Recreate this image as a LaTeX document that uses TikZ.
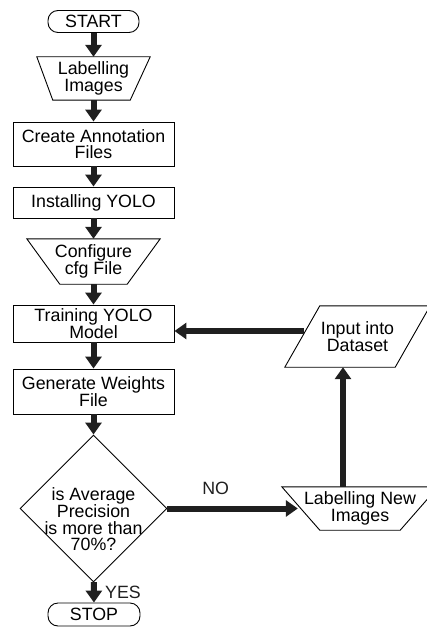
\documentclass[tikz,border=0pt]{standalone}
\usepackage{fontspec}
\setmainfont{Liberation Sans}
\usetikzlibrary{shapes,arrows,positioning,calc,arrows.meta}

\begin{document}
\begin{tikzpicture}[x=1pt,y=-1pt,
    every node/.style={font=\fontsize{17.8}{16.5}\selectfont, align=center},
    box/.style={draw, line width=0.9pt, minimum width=161pt, inner sep=0pt},
    term/.style={draw, line width=0.9pt, rounded corners=10pt, minimum width=91pt, minimum height=22pt, inner sep=0pt},
    trap/.style={inner sep=0pt},
    outline/.style={draw, line width=0.9pt, line join=miter},
    arr/.style={line width=6pt, color=black!88, -{Triangle[length=12pt,width=16pt]}}]
    \useasboundingbox (0,0) rectangle (427,628);

    % main column
    \node[term] (start) at (93.5,21.5) {START};
    \node[trap, minimum width=113pt, minimum height=43pt] (lab1) at (93.5,78.5) {Labelling\\Images};
    \node[box, minimum height=44pt] (ann) at (93.5,144) {Create Annotation\\Files};
    \node[box, minimum height=31pt] (inst) at (93.5,202.5) {Installing YOLO};
    \node[trap, minimum width=133pt, minimum height=45pt] (cfg) at (93.5,261.5) {Configure\\cfg File};
    \node[box, minimum height=37pt] (train) at (93.5,323.5) {Training YOLO\\Model};
    \node[box, minimum height=45pt] (gen) at (93.5,391.5) {Generate Weights\\File};
    \node[draw, diamond, line width=0.9pt, minimum width=147pt, minimum height=147pt, inner sep=0pt] (dec) at (93.5,508.5) {};
    \node (dectxt) at (93.5,519) {is Average\\Precision\\is more than\\70\%?};
    \node[term, minimum width=92pt, minimum height=23pt] (stop) at (94,614.5) {STOP};

    % loop back
    \node[trap, minimum width=156pt, minimum height=43pt] (newlab) at (360,508.5) {Labelling New\\Images};
    \node[trap, minimum width=145pt, minimum height=61pt] (input) at (357.5,336.5) {Input into\\Dataset};

    % slanted outlines
    \path[outline] (lab1.north west) -- (lab1.north east) -- ([xshift=-20pt]lab1.south east) -- ([xshift=16pt]lab1.south west) -- cycle;
    \path[outline] (cfg.north west) -- (cfg.north east) -- ([xshift=-33pt]cfg.south east) -- ([xshift=33pt]cfg.south west) -- cycle;
    \path[outline] (newlab.north west) -- (newlab.north east) -- ([xshift=-38pt]newlab.south east) -- ([xshift=38pt]newlab.south west) -- cycle;
    \path[outline] ([xshift=35pt]input.north west) -- (input.north east) -- ([xshift=-35pt]input.south east) -- (input.south west) -- cycle;

    % arrows
    \draw[arr] (start) -- (lab1);
    \draw[arr] (lab1) -- (ann);
    \draw[arr] (ann) -- (inst);
    \draw[arr] (inst) -- (cfg);
    \draw[arr] (cfg) -- (train);
    \draw[arr] (train) -- (gen);
    \draw[arr] (gen) -- (dec);
    \draw[arr] (dec) -- node[anchor=west, xshift=5pt] {YES} (stop);
    \draw[arr] (dec.east) -- node[above=7pt, pos=0.37] {NO} ([xshift=16pt]newlab.west);
    \draw[arr] ([xshift=-17pt]newlab.north) -- ([xshift=-17pt]newlab.north |- input.south);
    \draw[arr] ([shift={(19pt,5.5pt)}]input.west) -- ([yshift=5.5pt]input.west -| train.east);
\end{tikzpicture}
\end{document}
